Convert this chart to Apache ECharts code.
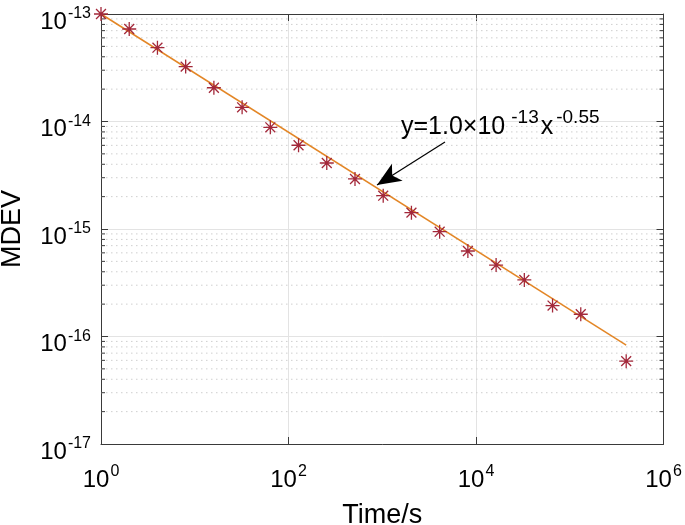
<!DOCTYPE html>
<html>
<head>
<meta charset="utf-8">
<script src="https://cdn.jsdelivr.net/npm/echarts@6/dist/echarts.min.js"></script>
<style>html,body{margin:0;padding:0;background:#fff;}#c{width:685px;height:525px;}</style>
</head>
<body>
<div id="c"></div>
<script>
// Measured data (Time / s, MDEV)
const tau = [1, 2, 4, 8, 16, 32, 64, 128, 256, 512, 1024, 2048, 4096, 8192, 16384, 32768, 65536, 131072, 400000];
const mdev = [1.0e-13, 7.25e-14, 4.86e-14, 3.24e-14, 2.06e-14, 1.355e-14, 8.83e-15, 6.01e-15, 4.11e-15, 2.92e-15,
              2.04e-15, 1.42e-15, 9.44e-16, 6.24e-16, 4.62e-16, 3.36e-16, 1.94e-16, 1.61e-16, 5.9e-17];
// Fit line endpoints y = 1.0e-13 x^-0.55
const fitX = [1, 400000];
const fitY = [1.0e-13, 8.3e-17];
// Axis decades
const yDecades = [-17, -16, -15, -14, -13];
// Arrow (tail -> tip) in data coords
const arrowTail = [4670, 6.44e-15];
const arrowTip = [879, 2.56e-15];

const FONT = 'Liberation Sans, Arial, Helvetica, sans-serif';
const minorY = [];
for (let i = 0; i < yDecades.length - 1; i++) {
  for (let k = 2; k <= 9; k++) minorY.push([1, k * Math.pow(10, yDecades[i])]);
}
function powLabel(v) {
  const e = Math.round(Math.log10(v));
  return '{b|10}{s|' + e + '}';
}
const rich = {
  b: {fontSize: 24, fontFamily: FONT, color: '#000', lineHeight: 28, verticalAlign: 'bottom'},
  s: {fontSize: 16, fontFamily: FONT, color: '#000', lineHeight: 9, verticalAlign: 'top', padding: [0, 0, 0, 1]}
};
const axisLineStyle = {color: '#3a3a3a', width: 1};
const starPath = 'path://M0,-10L0,10M-10,0L10,0M-7.07,-7.07L7.07,7.07M-7.07,7.07L7.07,-7.07';

const chart = echarts.init(document.getElementById('c'), null, {renderer: 'canvas'});
chart.setOption({
  animation: false,
  backgroundColor: '#fff',
  grid: {left: 101, right: 21.5, top: 14, bottom: 81, containLabel: false, outerBoundsMode: 'none'},
  xAxis: [{
    type: 'log', logBase: 10, min: 1, max: 1e6, interval: 2,
    name: 'Time/s', nameLocation: 'middle', nameGap: 58,
    nameTextStyle: {fontSize: 27, fontFamily: FONT, color: '#000'},
    axisLine: {show: true, lineStyle: axisLineStyle},
    axisTick: {show: true, inside: true, length: 7, lineStyle: axisLineStyle},
    axisLabel: {formatter: powLabel, rich: rich, margin: 20},
    splitLine: {show: true, lineStyle: {color: '#e3e3e3', width: 1}},
    minorTick: {show: false}
  }, {
    type: 'log', logBase: 10, min: 1, max: 1e6, interval: 2, position: 'top',
    axisLine: {show: true, lineStyle: axisLineStyle},
    axisTick: {show: true, inside: true, length: 7, lineStyle: axisLineStyle},
    axisLabel: {show: false}, splitLine: {show: false}
  }],
  yAxis: [{
    type: 'log', logBase: 10, min: 1e-17, max: 1e-13,
    name: 'MDEV', nameLocation: 'middle', nameGap: 75, nameRotate: 90,
    nameTextStyle: {fontSize: 27, fontFamily: FONT, color: '#000'},
    axisLine: {show: true, lineStyle: axisLineStyle},
    axisTick: {show: true, inside: true, length: 7, lineStyle: axisLineStyle},
    axisLabel: {formatter: powLabel, rich: rich, margin: 10, padding: [12, 0, 0, 0]},
    splitLine: {show: true, lineStyle: {color: '#e3e3e3', width: 1}}
  }, {
    type: 'log', logBase: 10, min: 1e-17, max: 1e-13, position: 'right',
    axisLine: {show: true, lineStyle: axisLineStyle},
    axisTick: {show: true, inside: true, length: 7, lineStyle: axisLineStyle},
    axisLabel: {show: false}, splitLine: {show: false}
  }],
  series: [{
    type: 'custom',
    xAxisIndex: 0, yAxisIndex: 0,
    silent: true, z: 1,
    data: minorY,
    encode: {x: 0, y: 1},
    renderItem: function (params, api) {
      const cs = params.coordSys;
      const y = api.coord([1, api.value(1)])[1];
      return {
        type: 'group',
        children: [
          {type: 'line', shape: {x1: cs.x, y1: y, x2: cs.x + cs.width, y2: y},
           style: {stroke: '#cfcfcf', lineWidth: 1, lineDash: [1.5, 3.5]}},
          {type: 'line', shape: {x1: cs.x, y1: y, x2: cs.x + 4, y2: y},
           style: {stroke: '#3a3a3a', lineWidth: 1}},
          {type: 'line', shape: {x1: cs.x + cs.width - 4, y1: y, x2: cs.x + cs.width, y2: y},
           style: {stroke: '#3a3a3a', lineWidth: 1}}
        ]
      };
    }
  }, {
    type: 'line',
    xAxisIndex: 0, yAxisIndex: 0, z: 3,
    data: fitX.map((x, i) => [x, fitY[i]]),
    showSymbol: false, symbol: 'none',
    lineStyle: {color: '#E38626', width: 1.5},
    markLine: {
      silent: true,
      symbol: ['none', 'arrow'],
      symbolSize: [15, 24],
      label: {show: false},
      lineStyle: {color: '#000', width: 1.2, type: 'solid'},
      data: [[{coord: arrowTail}, {coord: arrowTip}]]
    }
  }, {
    type: 'scatter',
    xAxisIndex: 0, yAxisIndex: 0, z: 4,
    data: tau.map((x, i) => [x, mdev[i]]),
    symbol: starPath, symbolSize: 14, symbolKeepAspect: true,
    itemStyle: {color: 'transparent', borderColor: '#A3283A', borderWidth: 1.3, opacity: 1}
  }],
  graphic: [{
    type: 'text', left: 401, top: 108, z: 100,
    style: {
      text: '{m|y=1.0×10}{s|-13}{x|x}{t|-0.55}',
      rich: {
        m: {fontSize: 25, fontFamily: FONT, fill: '#000', lineHeight: 32, verticalAlign: 'bottom'},
        s: {fontSize: 19, fontFamily: FONT, fill: '#000', lineHeight: 11, verticalAlign: 'top', padding: [0, 0, 0, 6]},
        x: {fontSize: 25, fontFamily: FONT, fill: '#000', lineHeight: 32, verticalAlign: 'bottom', padding: [0, 0, 0, 2]},
        t: {fontSize: 19, fontFamily: FONT, fill: '#000', lineHeight: 11, verticalAlign: 'top', padding: [0, 0, 0, 3]}
      }
    }
  }]
});
</script>
</body>
</html>
